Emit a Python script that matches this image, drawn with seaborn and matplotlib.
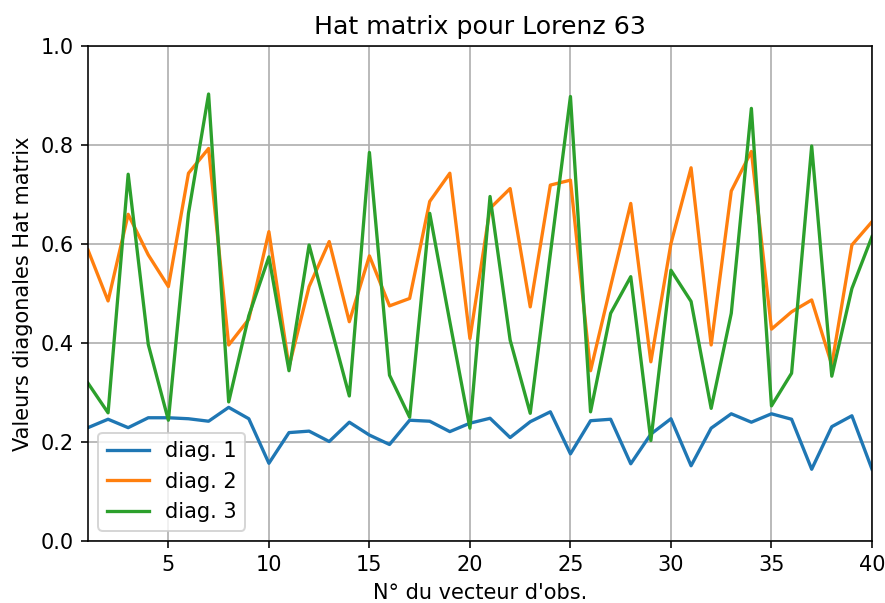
import numpy as np
import pandas as pd
import matplotlib
matplotlib.use("Agg")
import matplotlib.pyplot as plt
import seaborn as sns

# valeurs
obs = list(range(1, 41))
diag1 = [0.229, 0.246, 0.229, 0.249, 0.249, 0.247, 0.242, 0.270, 0.247, 0.157,
         0.219, 0.222, 0.201, 0.240, 0.214, 0.195, 0.244, 0.242, 0.221, 0.238,
         0.248, 0.209, 0.241, 0.261, 0.176, 0.243, 0.246, 0.156, 0.216, 0.247,
         0.152, 0.228, 0.257, 0.240, 0.257, 0.246, 0.145, 0.231, 0.253, 0.145]
diag2 = [0.588, 0.485, 0.660, 0.578, 0.514, 0.743, 0.793, 0.396, 0.448, 0.625,
         0.352, 0.514, 0.605, 0.443, 0.576, 0.475, 0.490, 0.686, 0.743, 0.409,
         0.672, 0.712, 0.473, 0.719, 0.729, 0.344, 0.515, 0.682, 0.362, 0.601,
         0.754, 0.396, 0.707, 0.787, 0.428, 0.463, 0.487, 0.356, 0.598, 0.645]
diag3 = [0.319, 0.259, 0.741, 0.397, 0.244, 0.662, 0.903, 0.281, 0.455, 0.574,
         0.344, 0.598, 0.445, 0.293, 0.785, 0.335, 0.250, 0.662, 0.443, 0.228,
         0.696, 0.406, 0.258, 0.580, 0.898, 0.261, 0.460, 0.534, 0.203, 0.547,
         0.484, 0.268, 0.460, 0.874, 0.273, 0.339, 0.798, 0.333, 0.510, 0.615]

df = pd.DataFrame({"obs": obs, "diag. 1": diag1, "diag. 2": diag2, "diag. 3": diag3})

plt.rcParams['font.family'] = ['DejaVu Sans']
plt.rcParams['font.size'] = 10.45
plt.rcParams['axes.titlesize'] = 12.6
fig = plt.figure(figsize=(885 / 144, 603 / 144), dpi=144)
ax = fig.add_axes([0.0994, 0.1028, 0.8859, 0.8209])

colors = sns.color_palette("tab10")
for i, col in enumerate(["diag. 1", "diag. 2", "diag. 3"]):
    sns.lineplot(data=df, x="obs", y=col, ax=ax, color=colors[i], label=col, linewidth=1.65)

ax.set_xlim(1, 40)
ax.set_ylim(0, 1)
ax.set_xticks([5, 10, 15, 20, 25, 30, 35, 40])
ax.set_yticks(np.arange(0, 1.01, 0.2))
ax.grid(True, color="#b0b0b0", linewidth=0.85)
ax.set_xlabel("N° du vecteur d'obs.")
ax.set_ylabel("Valeurs diagonales Hat matrix")
ax.set_title("Hat matrix pour Lorenz 63")
ax.legend(loc="lower left")

fig.savefig("out.png", dpi=144)
